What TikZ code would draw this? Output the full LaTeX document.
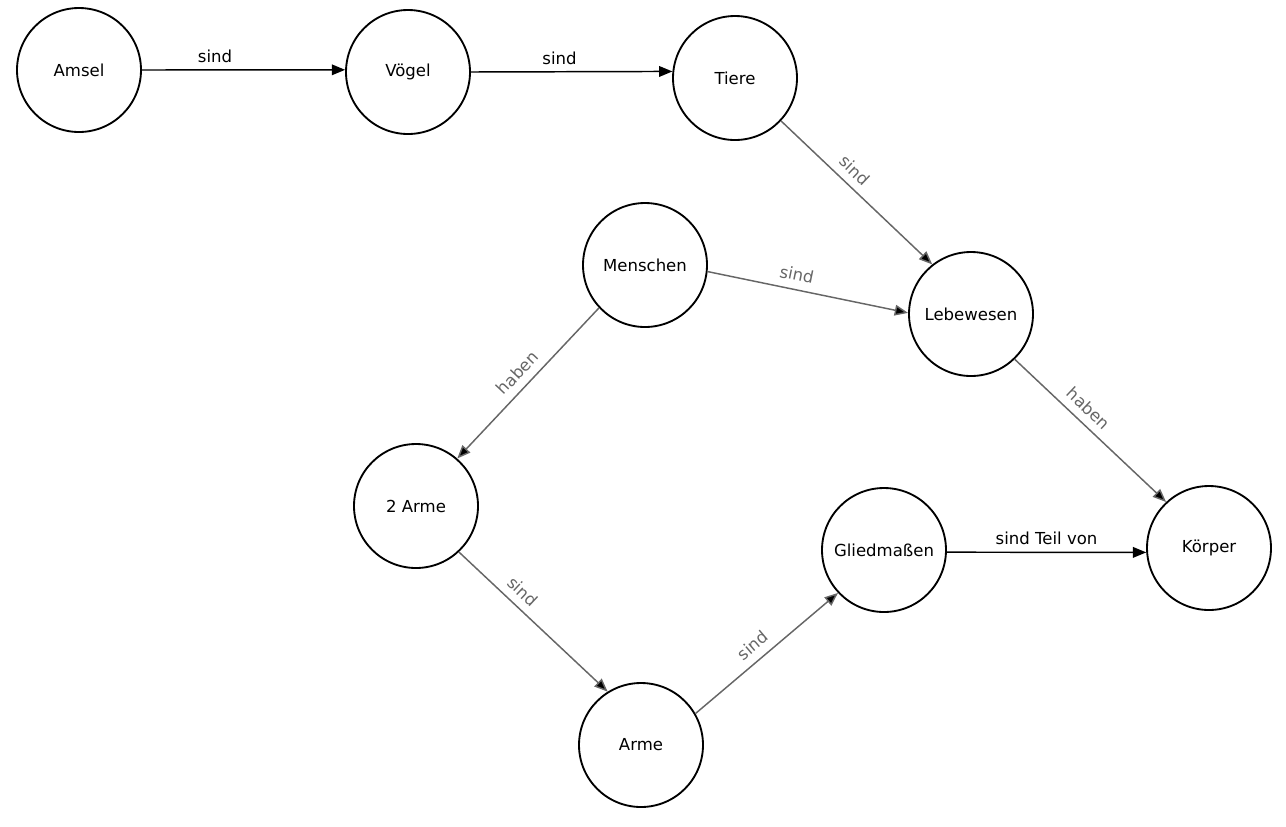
\documentclass[tikz,border=0pt]{standalone}
\usepackage{fontspec}
\setmainfont{DejaVu Sans}
\usetikzlibrary{arrows.meta}

\begin{document}
\begin{tikzpicture}[x=0.75pt,y=-0.75pt]
\tikzset{
  concept/.style={draw=black, circle, line width=1.4pt, minimum size=93pt, inner sep=0pt,
    font=\fontsize{12.4}{14}\selectfont},
  rel/.style={line width=1.1pt, -{Triangle[length=10pt,width=8pt,fill=black]}},
  grayrel/.style={rel, draw=black!60},
  lbl/.style={font=\fontsize{12.4}{14}\selectfont, inner sep=5pt},
  graylbl/.style={lbl, text=black!60, inner sep=6pt}
}
\useasboundingbox (0,0) rectangle (1286,826);
% concepts
\node[concept] (amsel) at (79,70) {Amsel};
\node[concept] (voegel) at (408,72) {Vögel};
\node[concept] (tiere) at (735,78) {Tiere};
\node[concept] (menschen) at (645,265) {Menschen};
\node[concept] (lebewesen) at (971,314) {Lebewesen};
\node[concept] (zweiarme) at (416,506) {2 Arme};
\node[concept] (glieder) at (884,550) {Gliedmaßen};
\node[concept] (koerper) at (1209,548) {Körper};
\node[concept] (arme) at (641,745) {Arme};
% relations
\draw[rel] (amsel.east) -- node[lbl, above, pos=0.36] {sind} (voegel.178);
\draw[rel] (voegel.east) -- node[lbl, above, pos=0.44] {sind} (tiere.174);
\draw[grayrel] (tiere.-43) -- node[graylbl, sloped, above, pos=0.42] {sind} (lebewesen.128);
\draw[grayrel] (menschen.-6) -- node[graylbl, sloped, above, pos=0.43] {sind} (lebewesen.179);
\draw[grayrel] (menschen.223) -- node[graylbl, sloped, above, pos=0.5] {haben} (zweiarme.49);
\draw[grayrel] (lebewesen.-46) -- node[graylbl, sloped, above, pos=0.42] {haben} (koerper.133);
\draw[grayrel] (zweiarme.-47) -- node[graylbl, sloped, above, pos=0.36] {sind} (arme.122);
\draw[grayrel] (arme.30) -- node[graylbl, sloped, above, pos=0.47] {sind} (glieder.223);
\draw[rel] (glieder.-2) -- node[lbl, above, pos=0.5] {sind Teil von} (koerper.184);
\end{tikzpicture}
\end{document}
